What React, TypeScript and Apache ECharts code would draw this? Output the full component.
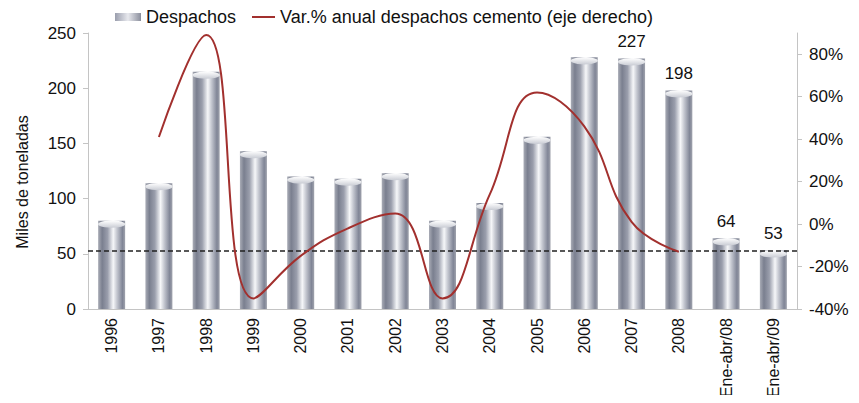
import React, { useEffect, useRef } from "react";
import * as echarts from "echarts";

const categories = ["1996", "1997", "1998", "1999", "2000", "2001", "2002", "2003", "2004", "2005", "2006", "2007", "2008", "Ene-abr/08", "Ene-abr/09"];
const despachos = [80, 114, 215, 143, 120, 118, 123, 80, 96, 156, 228, 227, 198, 64, 53];
const variacion: (number | null)[] = [null, 41, 89, -35, -15, -2, 5, -35, 14, 62, 46, 1, -13, null, null];
const labeledIdx = [11, 12, 13, 14];
const refLine = 53;
const leftTicks = { min: 0, max: 250, interval: 50 };
const rightTicks = { min: -40, max: 90, interval: 20 };

const FONT = "'Liberation Sans', Arial, sans-serif";
const BAR_NAME = "Despachos";
const LINE_NAME = "Var.% anual despachos cemento (eje derecho)";

export default function App() {
  const ref = useRef<HTMLDivElement>(null);
  useEffect(() => {
    if (!ref.current) return;
    const chart = echarts.init(ref.current, undefined, { renderer: "svg" });
    const barGrad = new echarts.graphic.LinearGradient(0, 0, 1, 0, [
      { offset: 0, color: "#a9acb6" },
      { offset: 0.15, color: "#7a7f8f" },
      { offset: 0.35, color: "#9a9eac" },
      { offset: 0.56, color: "#f6f7f9" },
      { offset: 0.7, color: "#c3c6cf" },
      { offset: 0.9, color: "#808596" },
      { offset: 1, color: "#a0a3ad" },
    ]);
    const capGrad = new echarts.graphic.LinearGradient(0, 0, 0, 1, [
      { offset: 0, color: "#ffffff" },
      { offset: 1, color: "#c9ccd4" },
    ]);
    const legendIconGrad = new echarts.graphic.LinearGradient(0, 0, 1, 0, [
      { offset: 0, color: "#9a9ead" },
      { offset: 0.5, color: "#e8e9ee" },
      { offset: 1, color: "#8a8e9c" },
    ]);
    chart.setOption({
      animation: false,
      textStyle: { fontFamily: FONT },
      legend: [
        {
          top: 8,
          left: 115,
          padding: 0,
          itemWidth: 26,
          itemHeight: 8,
          textStyle: { fontSize: 18, color: "#111", fontFamily: FONT },
          data: [{ name: BAR_NAME, icon: "rect", itemStyle: { color: legendIconGrad } }],
        },
        {
          top: 8,
          left: 252,
          padding: 0,
          itemWidth: 23,
          itemHeight: 2,
          textStyle: { fontSize: 18, color: "#111", fontFamily: FONT },
          data: [{ name: LINE_NAME, icon: "rect", itemStyle: { color: "#a2302e" } }],
        },
      ],
      grid: { left: 88, right: 62, top: 33, bottom: 94 },
      xAxis: {
        type: "category",
        data: categories,
        axisTick: { show: false },
        axisLine: { lineStyle: { color: "#c4c4c4", width: 1 } },
        axisLabel: { rotate: 90, fontSize: 16, color: "#111", margin: 9, fontFamily: FONT, interval: 0 },
      },
      yAxis: [
        {
          type: "value",
          min: leftTicks.min,
          max: leftTicks.max,
          interval: leftTicks.interval,
          name: "Miles de toneladas",
          nameLocation: "middle",
          nameGap: 58,
          nameRotate: 90,
          nameTextStyle: { fontSize: 16, color: "#111", fontFamily: FONT, padding: [0, 22, 0, 0] },
          axisLine: { show: true, lineStyle: { color: "#c4c4c4" } },
          axisTick: { show: true, length: 5, lineStyle: { color: "#c4c4c4" } },
          axisLabel: { fontSize: 17, color: "#111", margin: 12, fontFamily: FONT },
          splitLine: { show: false },
        },
        {
          type: "value",
          min: rightTicks.min,
          max: rightTicks.max,
          interval: rightTicks.interval,
          position: "right",
          axisLine: { show: true, lineStyle: { color: "#c4c4c4" } },
          axisTick: { show: true, length: 5, lineStyle: { color: "#c4c4c4" } },
          axisLabel: {
            fontSize: 17,
            color: "#111",
            margin: 12,
            fontFamily: FONT,
            showMaxLabel: false,
            formatter: (v: number) => (v > 85 ? "" : v + "%"),
          },
          splitLine: { show: false },
        },
      ],
      series: [
        {
          name: BAR_NAME,
          type: "bar",
          barWidth: 27,
          data: despachos.map((v, i) => ({
            value: v,
            label: {
              show: labeledIdx.includes(i),
              position: "top",
              distance: 8,
              fontSize: 17,
              color: "#111",
              fontFamily: FONT,
            },
          })),
          itemStyle: { color: barGrad },
          markLine: {
            silent: true,
            symbol: ["none", "none"],
            label: { show: false },
            lineStyle: { type: [5, 3], color: "#222", width: 1.5 },
            data: [{ yAxis: refLine }],
          },
          z: 2,
        },
        {
          name: "cap",
          type: "pictorialBar",
          symbol: "circle",
          symbolSize: [27, 7],
          symbolPosition: "end",
          symbolOffset: [0, 0],
          data: despachos,
          itemStyle: { color: capGrad },
          z: 3,
          silent: true,
        },
        {
          name: LINE_NAME,
          type: "line",
          yAxisIndex: 1,
          data: variacion,
          smooth: 0.45,
          symbol: "none",
          connectNulls: false,
          lineStyle: { color: "#a2302e", width: 2 },
          itemStyle: { color: "#a2302e" },
          z: 5,
        },
      ],
    });
    return () => chart.dispose();
  }, []);
  return <div ref={ref} style={{ width: 859, height: 403, margin: -8 }} />;
}
